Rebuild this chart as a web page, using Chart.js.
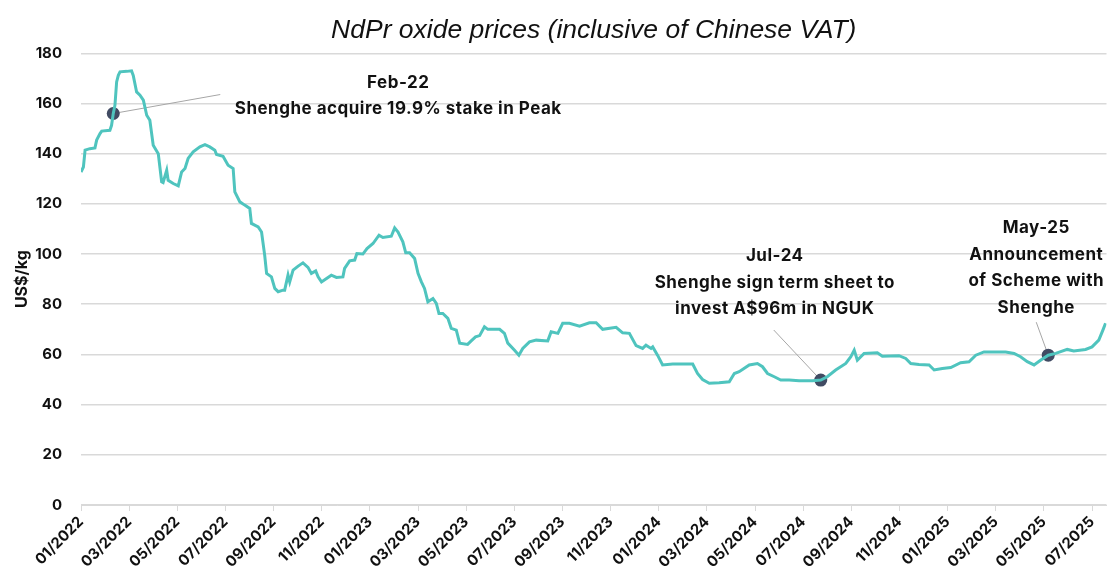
<!DOCTYPE html>
<html>
<head>
<meta charset="utf-8">
<title>NdPr oxide prices</title>
<script src="https://cdn.jsdelivr.net/npm/chart.js@4.4.1/dist/chart.umd.min.js"></script>
<style>
  html, body { margin: 0; padding: 0; background: #fff; overflow: hidden; }
  #wrap { position: relative; width: 1113px; height: 576px; }
</style>
</head>
<body>
<div id="wrap"><canvas id="priceChart"></canvas></div>
<script>
// x = months since 01/2022, y = US$/kg
const monthsFromJan2022 = [
  0, 0.10, 0.17, 0.37, 0.58, 0.65, 0.79, 0.86, 1.20, 1.27, 1.34, 1.41, 1.48, 1.55, 1.62, 1.90,
  2.10, 2.17, 2.31, 2.45, 2.59, 2.73, 2.86, 3.00, 3.21, 3.35, 3.41, 3.56, 3.62, 3.83, 4.04, 4.18,
  4.32, 4.45, 4.66, 4.94, 5.15, 5.35, 5.56, 5.63, 5.90, 6.11, 6.32, 6.39, 6.60, 6.80, 7.01, 7.08,
  7.36, 7.50, 7.63, 7.71, 7.91, 8.05, 8.19, 8.39, 8.46, 8.60, 8.67, 8.81, 9.02, 9.22, 9.43, 9.57,
  9.75, 9.85, 9.99, 10.20, 10.40, 10.61, 10.88, 10.95, 11.16, 11.37, 11.46, 11.71, 11.88, 12.13,
  12.38, 12.54, 12.89, 13.03, 13.17, 13.37, 13.49, 13.65, 13.86, 14.00, 14.14, 14.27, 14.41,
  14.62, 14.76, 14.87, 15.03, 15.24, 15.38, 15.59, 15.73, 16.06, 16.22, 16.39, 16.56, 16.76,
  16.90, 17.39, 17.59, 17.73, 18.01, 18.19, 18.35, 18.63, 18.91, 19.39, 19.53, 19.81, 20.01,
  20.29, 20.71, 21.12, 21.40, 21.67, 22.23, 22.50, 22.78, 23.06, 23.33, 23.47, 23.68, 23.75,
  23.95, 24.16, 24.58, 25.41, 25.61, 25.82, 26.10, 26.51, 26.93, 27.14, 27.34, 27.76, 28.10,
  28.31, 28.52, 28.80, 29.07, 29.42, 29.83, 30.39, 30.73, 31.00, 31.35, 31.77, 31.98, 32.12,
  32.25, 32.53, 33.08, 33.29, 33.98, 34.26, 34.47, 34.81, 35.23, 35.44, 35.78, 36.13, 36.54,
  36.89, 37.17, 37.51, 38.00, 38.41, 38.76, 39.03, 39.31, 39.59, 39.86, 40.18, 40.49, 40.97,
  41.24, 41.73, 42.00, 42.28, 42.45, 42.56
];
const ndprPrice = [
  132.7, 134.7, 141.4, 142.0, 142.3, 145.4, 148.0, 149.0, 149.3, 151.3, 156.0, 159.3, 168.6, 171.2, 172.6, 172.8,
  173.0, 171.2, 164.6, 163.3, 161.3, 155.3, 153.3, 143.4, 140.0, 128.8, 128.5, 133.4, 129.4, 128.1, 127.2, 132.7,
  134.1, 138.1, 140.7, 142.7, 143.6, 142.7, 141.4, 139.7, 139.0, 135.4, 134.1, 124.8, 120.8, 119.5, 118.2, 112.2,
  110.8, 108.8, 99.6, 92.3, 90.9, 86.3, 85.0, 85.6, 85.6, 91.6, 88.9, 93.6, 95.2, 96.5, 94.7, 92.3,
  93.3, 90.9, 88.9, 90.3, 91.6, 90.7, 90.9, 94.3, 97.3, 97.6, 100.2, 100.0, 102.2, 104.2,
  107.5, 106.6, 107.1, 110.4, 108.8, 104.9, 100.5, 100.5, 98.2, 92.3, 88.9, 86.3, 81.0,
  82.3, 80.3, 76.3, 76.3, 74.4, 70.4, 69.7, 64.5, 64.0, 65.5, 67.0, 67.5, 71.0,
  70.0, 70.0, 68.4, 64.5, 61.7, 59.7, 62.4, 65.0, 65.7, 65.4, 69.0, 68.4, 72.4,
  72.4, 71.3, 72.6, 72.6, 70.0, 70.8, 68.6, 68.4, 63.5, 62.4, 63.7, 62.4, 63.0,
  59.7, 55.8, 56.2, 56.2, 52.4, 50.0, 48.5, 48.7, 49.1, 52.4, 53.1, 55.8, 56.4,
  55.1, 52.4, 51.1, 49.8, 49.8, 49.5, 49.5, 49.8, 51.1, 53.8, 56.4, 59.1, 61.7,
  57.7, 60.4, 60.7, 59.3, 59.5, 58.4, 56.4, 56.0, 55.8, 53.8, 54.4, 54.8, 56.7,
  57.1, 59.7, 61.0, 61.0, 61.0, 60.4, 59.1, 57.1, 55.8, 57.7, 59.7, 60.4, 62.0,
  61.4, 62.0, 63.0, 65.7, 69.7, 72.4
];
const xTickLabels = [
  '01/2022', '03/2022', '05/2022', '07/2022', '09/2022', '11/2022',
  '01/2023', '03/2023', '05/2023', '07/2023', '09/2023', '11/2023',
  '01/2024', '03/2024', '05/2024', '07/2024', '09/2024', '11/2024',
  '01/2025', '03/2025', '05/2025', '07/2025'
];
const yTicks = [0, 20, 40, 60, 80, 100, 120, 140, 160, 180];

// events marked on the line
const eventMonths = [1.34, 30.73, 40.18];
const eventPrices = [156, 49.8, 59.7];
const eventTexts = [
  ['Feb-22', 'Shenghe acquire 19.9% stake in Peak'],
  ['Jul-24', 'Shenghe sign term sheet to', 'invest A$96m in NGUK'],
  ['May-25', 'Announcement', 'of Scheme with', 'Shenghe']
];

// where the label and leader line sit, relative to the dot (px)
const calloutLayout = [
  { textDx: 285, textDy: -31, lineDx: 107, lineDy: -19 },
  { textDx: -46, textDy: -124, lineDx: -47, lineDy: -50 },
  { textDx: -12, textDy: -127, lineDx: -12, lineDy: -33 }
];

const FONT = 'Inter, "Noto Sans", sans-serif';

const callouts = {
  id: 'callouts',
  beforeDatasetsDraw(chart) {
    const ctx = chart.ctx;
    const pts = chart.getDatasetMeta(1).data;
    ctx.save();
    ctx.strokeStyle = '#a6a6a6';
    ctx.lineWidth = 1;
    pts.forEach((p, i) => {
      const l = calloutLayout[i];
      ctx.beginPath();
      ctx.moveTo(p.x + l.lineDx, p.y + l.lineDy);
      ctx.lineTo(p.x, p.y);
      ctx.stroke();
    });
    ctx.restore();
  },
  afterDraw(chart) {
    const ctx = chart.ctx;
    const pts = chart.getDatasetMeta(1).data;
    ctx.save();
    ctx.fillStyle = '#111';
    ctx.font = 'bold 17px ' + FONT;
    ctx.letterSpacing = '0.5px';
    ctx.textAlign = 'center';
    ctx.textBaseline = 'middle';
    pts.forEach((p, i) => {
      const l = calloutLayout[i];
      eventTexts[i].forEach((line, j) => {
        ctx.fillText(line, p.x + l.textDx, p.y + l.textDy + j * 26.5);
      });
    });
    ctx.restore();
  }
};

new Chart(document.getElementById('priceChart'), {
  type: 'line',
  data: {
    datasets: [{
      label: 'NdPr oxide',
      data: monthsFromJan2022.map((m, i) => ({ x: m, y: ndprPrice[i] })),
      borderColor: '#4fc4be',
      borderWidth: 3,
      pointRadius: 0,
      tension: 0
    }, {
      label: 'Events',
      data: eventMonths.map((m, i) => ({ x: m, y: eventPrices[i] })),
      showLine: false,
      pointRadius: 6.5,
      pointBackgroundColor: '#414b63',
      pointBorderWidth: 0
    }]
  },
  options: {
    responsive: true,
    maintainAspectRatio: false,
    animation: false,
    layout: { padding: { left: 9, right: 0, top: 0, bottom: 0 } },
    plugins: {
      legend: { display: false },
      tooltip: { enabled: false },
      title: {
        display: true,
        fullSize: false,
        text: 'NdPr oxide prices (inclusive of Chinese VAT)',
        color: '#111',
        font: { family: '"Liberation Sans", Arial, sans-serif', size: 26.5, style: 'italic', weight: 'normal' },
        padding: { top: 15, bottom: 6.5 }
      }
    },
    scales: {
      x: {
        type: 'linear',
        min: 0,
        max: 42.6,
        afterBuildTicks: axis => {
          axis.ticks = xTickLabels.map((_, i) => ({ value: i * 2 }));
        },
        afterFit: axis => {
          axis.paddingRight = 0;
          axis.height = 71;
        },
        ticks: {
          autoSkip: false,
          minRotation: 45,
          maxRotation: 45,
          padding: 2,
          color: '#111',
          font: { family: FONT, size: 15, weight: 'bold' },
          callback: v => xTickLabels[v / 2]
        },
        grid: { drawOnChartArea: false, drawTicks: true, tickLength: 6, color: '#d9d9d9' },
        border: { display: true, color: '#d9d9d9' }
      },
      y: {
        min: 0,
        max: 180,
        afterBuildTicks: axis => {
          axis.ticks = yTicks.map(v => ({ value: v }));
        },
        afterFit: axis => {
          axis.width = 72;
        },
        ticks: {
          padding: 19,
          color: '#111',
          font: { family: FONT, size: 15, weight: 'bold' }
        },
        grid: { color: '#d9d9d9', drawTicks: false, lineWidth: 1.5 },
        border: { display: false },
        title: {
          display: true,
          text: 'US$/kg',
          color: '#111',
          font: { family: FONT, size: 16, weight: 'bold' },
          padding: { top: 4, bottom: 0 }
        }
      }
    }
  },
  plugins: [callouts]
});
</script>
</body>
</html>
